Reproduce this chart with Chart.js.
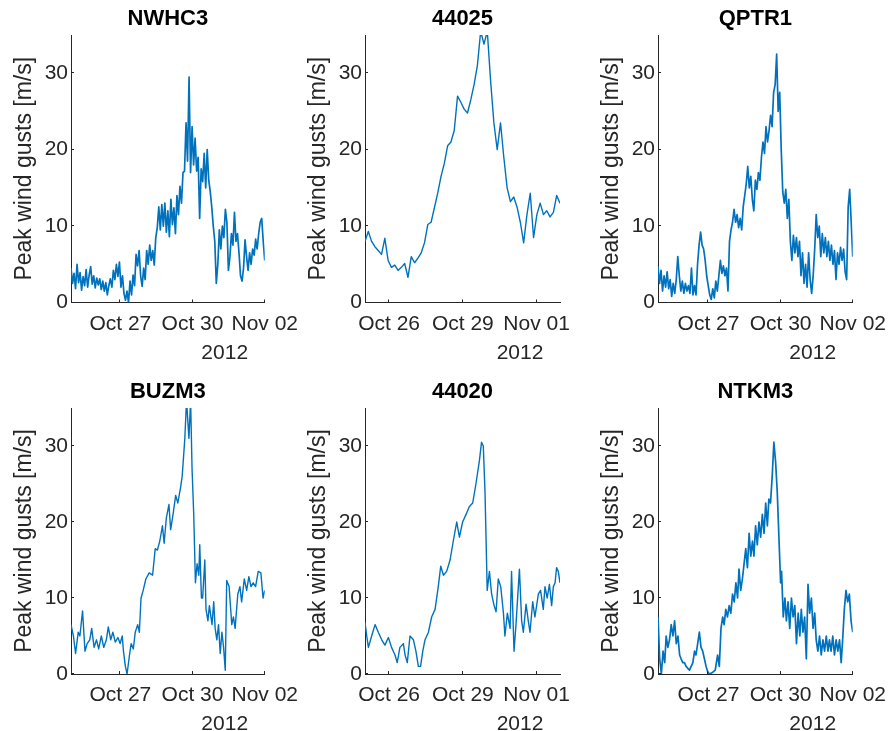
<!DOCTYPE html>
<html>
<head>
<meta charset="utf-8">
<title>Peak wind gusts - Sandy 2012</title>
<script src="https://cdn.jsdelivr.net/npm/chart.js@4.4.1/dist/chart.umd.min.js"></script>
<style>
    html, body { margin: 0; padding: 0; background: #fff; overflow: hidden; }
    #figure { position: relative; width: 889px; height: 731px; }
    #figure canvas { position: absolute; }
</style>
</head>
<body>
<div id="figure">
    <canvas id="c1" width="307" height="365" style="left:0px;top:0px"></canvas>
    <canvas id="c2" width="306" height="365" style="left:294px;top:0px"></canvas>
    <canvas id="c3" width="308" height="365" style="left:587px;top:0px"></canvas>
    <canvas id="c4" width="307" height="358" style="left:0px;top:373px"></canvas>
    <canvas id="c5" width="306" height="358" style="left:294px;top:373px"></canvas>
    <canvas id="c6" width="308" height="358" style="left:587px;top:373px"></canvas>
</div>
<script>
// --- DATA (time = days since 25 Oct 2012 00:00, gusts in m/s) ---
const yTitle = 'Peak wind gusts [m/s]';
const yearText = '2012';
const gustTicks = [0, 10, 20, 30];
const tickDaysA = [2, 5, 8];
const tickTextA = ['Oct 27', 'Oct 30', 'Nov 02'];
const tickDaysB = [1, 4, 7];
const tickTextB = ['Oct 26', 'Oct 29', 'Nov 01'];

// NWHC3: regular samples from -0.05 to 8.0
const nwhc3Gust = [
    4.5, 2.5, 3.8, 1.8, 5.0, 2.6, 3.9, 1.6, 3.4, 2.2, 4.3,
    2.0, 3.6, 4.7, 2.4, 3.5, 1.9, 3.2, 2.3, 3.1,
    1.7, 2.8, 1.5, 2.6, 1.0, 2.2,
    3.1, 2.0, 4.2, 3.0, 5.0, 3.4,
    5.3, 2.0, 3.5, 1.2,
    0.3, 1.5, 0.0,
    2.8, 1.0, 3.6, 2.2, 6.3,
    4.8, 6.8,
    3.5, 2.1, 4.5, 3.0,
    6.8, 5.0, 7.5, 5.5, 6.8, 4.9,
    8.5, 9.8, 12.5,
    9.5, 12.8, 10.0, 13.0, 9.2, 12.0, 8.6, 13.5, 10.2, 12.4, 9.0, 14.0, 11.5,
    15.2, 13.0, 17.0,
    17.2, 23.5, 18.5, 29.5,
    17.0, 23.0, 18.0, 21.5, 17.2, 19.0,
    11.0, 17.5, 15.8,
    19.5, 15.0, 20.0, 16.0, 14.5,
    12.5, 10.0, 8.0,
    2.5, 5.0,
    9.5, 7.0, 10.0, 8.5,
    12.2, 10.5,
    4.2, 6.0,
    9.0, 7.5,
    11.8,
    8.0, 9.0, 6.5,
    3.5, 2.8, 4.5,
    8.2, 6.0,
    4.2, 6.5, 5.0,
    7.0, 6.2, 8.3, 7.0, 9.0,
    10.5, 11.0,
    8.0, 5.5
];

// 44025: regular samples from 0.02 to 7.95
const b44025Gust = [
    8.0, 9.3, 8.0, 7.3, 6.8, 6.3, 8.4, 5.5, 4.6, 4.9,
    4.2, 4.6, 5.1, 3.3, 6.0, 5.2, 5.8, 6.5, 7.8, 10.2,
    10.5, 12.4, 14.3, 16.5, 18.2, 20.5, 21.0, 22.5, 27.0, 26.2,
    25.3, 24.8, 26.5, 28.5, 31.0, 35.5, 33.8, 35.5, 29.0, 23.5,
    20.0, 23.5, 19.0, 15.0, 13.2, 13.8, 12.5, 10.5, 7.8, 11.5,
    14.3, 8.5, 11.5, 13.0, 11.5, 12.0, 11.2, 11.8, 14.0, 13.0
];

// QPTR1: regular samples from -0.1 to 8.0
const qptr1Gust = [
    4.7, 2.5, 4.2, 1.5, 3.5, 2.0, 4.0, 1.8, 3.0, 0.8,
    2.5, 1.2, 3.0, 6.0, 3.5, 1.5, 2.8, 1.2, 2.5, 1.5,
    2.2, 1.2, 4.5, 1.0, 2.2, 1.0, 5.0, 7.5, 9.2, 7.5,
    7.0, 5.5, 3.5, 2.2, 1.0, 0.4, 1.8, 0.6, 2.8, 1.5,
    3.5, 5.5, 3.8, 4.8, 3.5, 4.5, 1.5, 8.0, 9.5, 10.5,
    12.2, 10.5, 11.5, 9.8, 11.0, 9.5, 12.5, 14.0, 15.5, 17.8,
    15.0, 16.5, 13.5, 12.0, 16.0, 14.8, 17.0, 16.0, 19.0, 21.0,
    19.5, 23.0, 21.0, 22.5, 24.5, 23.0, 27.5, 28.5, 32.5, 25.0,
    27.5, 20.0, 14.5, 13.0, 14.8, 11.0, 13.5, 8.0, 5.5, 8.8,
    6.5, 8.5, 6.0, 8.0, 3.5, 6.5, 2.5, 5.0, 2.0, 6.5,
    3.0, 1.2, 3.5, 7.0, 11.5, 8.5, 10.0, 6.0, 9.0, 6.5,
    8.5, 6.0, 8.0, 5.5, 7.5, 5.0, 6.8, 3.0, 6.5, 5.0,
    7.2, 5.5, 7.0, 4.0, 3.0, 12.5, 14.8, 10.5, 6.0
];

const buzm3Time = [
    -0.05, 0.05, 0.14, 0.25, 0.32, 0.43, 0.53, 0.62, 0.73, 0.81,
    0.91, 1.01, 1.10, 1.21, 1.31, 1.42, 1.50, 1.60, 1.69, 1.79,
    1.90, 1.99, 2.08, 2.13, 2.21, 2.28, 2.38, 2.45, 2.54, 2.62,
    2.72, 2.79, 2.86, 2.95, 3.06, 3.20, 3.34, 3.45, 3.54, 3.64,
    3.75, 3.82, 3.91, 4.02, 4.09, 4.19, 4.30, 4.39, 4.50, 4.57,
    4.68, 4.75, 4.85, 4.92, 4.98, 5.05, 5.12, 5.19, 5.26, 5.30,
    5.37, 5.42, 5.51, 5.56, 5.64, 5.70, 5.81, 5.88, 5.94, 6.01,
    6.08, 6.15, 6.22, 6.29, 6.36, 6.42, 6.52, 6.63, 6.70, 6.77,
    6.88, 6.97, 7.04, 7.15, 7.25, 7.34, 7.43, 7.52, 7.62, 7.73,
    7.84, 7.93, 8.00
];
const buzm3Gust = [
    6.5, 5.0, 2.7, 5.5, 5.0, 8.3, 3.0, 4.0, 4.5, 6.0,
    3.5, 4.5, 3.3, 5.0, 3.5, 4.5, 6.2, 4.5, 5.5, 4.2,
    4.8, 4.0, 5.0, 3.0, 1.0, 0.0, 2.5, 4.0, 3.3, 5.5,
    6.5, 5.5, 10.0, 11.0, 12.5, 13.3, 13.0, 16.5, 16.3, 17.5,
    19.5, 17.2, 20.5, 22.3, 19.0, 21.0, 23.5, 22.5, 24.5, 26.0,
    31.0, 36.0, 31.0, 36.0, 27.0, 21.0, 12.0, 14.5, 13.0, 17.0,
    10.0, 10.0, 15.0, 8.5, 7.0, 9.0, 6.5, 9.5, 6.0, 4.5,
    6.5, 2.7, 5.5, 3.5, 0.5, 12.3, 11.5, 6.5, 7.5, 6.0,
    10.5, 11.5, 9.5, 12.5, 11.0, 12.8, 11.5, 12.0, 11.5, 13.5,
    13.3, 10.0, 11.0
];

const b44020Time = [
    0.02, 0.09, 0.16, 0.29, 0.43, 0.56, 0.70, 0.83, 0.97, 1.10,
    1.24, 1.33, 1.44, 1.58, 1.65, 1.74, 1.85, 1.99, 2.09, 2.19,
    2.28, 2.37, 2.46, 2.60, 2.73, 2.87, 3.00, 3.10, 3.21, 3.34,
    3.48, 3.61, 3.75, 3.86, 3.99, 4.13, 4.26, 4.40, 4.53, 4.67,
    4.76, 4.83, 4.90, 4.99, 5.08, 5.17, 5.27, 5.35, 5.44, 5.54,
    5.65, 5.71, 5.81, 5.92, 5.98, 6.08, 6.16, 6.30, 6.39, 6.46,
    6.57, 6.66, 6.73, 6.84, 6.93, 7.07, 7.16, 7.27, 7.34, 7.43,
    7.52, 7.61, 7.68, 7.75, 7.81, 7.88, 7.95
];
const b44020Gust = [
    6.8, 5.0, 3.5, 5.0, 6.5, 5.5, 4.5, 3.8, 4.8, 3.5,
    2.5, 1.5, 3.5, 4.0, 2.5, 1.5, 5.0, 4.5, 3.0, 1.0,
    1.0, 3.0, 4.5, 5.5, 7.5, 8.5, 11.5, 14.2, 13.0, 13.5,
    15.0, 17.5, 20.0, 18.0, 20.0, 21.0, 22.0, 22.5, 25.0, 28.0,
    30.5, 30.0, 24.0, 11.0, 13.5, 10.5, 9.0, 8.2, 12.5, 11.5,
    8.0, 5.0, 8.0, 6.0, 13.5, 3.0, 6.5, 13.8, 7.0, 5.5,
    9.2, 7.0, 5.5, 9.5, 7.5, 10.5, 11.0, 8.5, 11.5, 10.0,
    11.8, 9.0, 11.5, 12.0, 14.0, 13.5, 12.0
];

const ntkm3Time = [
    -0.10, -0.03, 0.04, 0.11, 0.18, 0.24, 0.31, 0.38, 0.45, 0.52,
    0.59, 0.66, 0.73, 0.80, 0.86, 0.93, 1.00, 1.07, 1.21, 1.35,
    1.42, 1.48, 1.55, 1.62, 1.69, 1.76, 1.83, 1.90, 1.97, 2.03,
    2.17, 2.28, 2.38, 2.45, 2.52, 2.59, 2.65, 2.72, 2.79, 2.86,
    2.93, 3.00, 3.07, 3.14, 3.21, 3.27, 3.34, 3.41, 3.48, 3.55,
    3.62, 3.69, 3.76, 3.83, 3.89, 3.96, 4.03, 4.10, 4.17, 4.24,
    4.31, 4.38, 4.45, 4.51, 4.58, 4.65, 4.72, 4.79, 4.86, 4.93,
    5.00, 5.04, 5.11, 5.18, 5.24, 5.31, 5.38, 5.45, 5.52, 5.59,
    5.66, 5.73, 5.80, 5.86, 5.93, 6.00, 6.07, 6.14, 6.21, 6.28,
    6.35, 6.42, 6.48, 6.55, 6.62, 6.69, 6.76, 6.83, 6.90, 6.97,
    7.03, 7.10, 7.17, 7.24, 7.31, 7.38, 7.45, 7.52, 7.59, 7.65,
    7.72, 7.79, 7.86, 7.93, 8.00
];
const ntkm3Gust = [
    7.5, 2.0, 0.0, 3.0, 1.5, 5.0, 3.5, 4.5, 6.5, 5.0,
    7.0, 4.0, 5.0, 2.5, 2.0, 1.5, 1.5, 1.0, 0.5, 1.5,
    3.0, 2.5, 4.0, 5.5, 3.5, 3.0, 2.0, 1.0, 0.3, 0.0,
    0.2, 0.5, 2.5, 1.0, 6.0, 7.5, 6.5, 8.5, 7.5, 9.0,
    8.0, 10.5, 9.5, 12.0, 10.0, 13.8, 11.0, 12.5, 14.5, 16.5,
    14.0, 18.5, 15.5, 17.5, 15.5, 19.5, 17.0, 20.0, 18.0, 21.0,
    18.5, 22.5, 19.5, 23.0, 22.5, 26.0, 30.5, 28.0, 24.0, 18.0,
    12.0, 13.5, 7.5, 10.0, 7.0, 9.5, 6.0, 10.0, 7.5, 9.0,
    4.0, 8.0, 5.0, 8.5, 5.5, 7.5, 2.0, 11.8, 8.0, 10.0,
    6.0, 8.0, 4.5, 3.0, 5.0, 2.5, 4.5, 3.0, 5.0, 3.0,
    4.5, 3.0, 5.0, 2.5, 4.5, 3.0, 4.5, 1.5, 5.0, 8.5,
    11.0, 9.5, 10.5, 7.0, 5.5
];

// --- STYLE ---
const FONT = '"Liberation Sans", Arial, Helvetica, sans-serif';
const AXIS_COLOR = '#262626';
const LINE_COLOR = '#0072BD';

// evenly spaced sample times for the regularly sampled stations
function spanDays(start, end, n) {
    return Array.from({ length: n }, (_, i) => start + i * (end - start) / (n - 1));
}

// MATLAB-style ticks pointing into the axes
const innerTicks = {
    id: 'innerTicks',
    afterDatasetsDraw(chart) {
        const { ctx, chartArea: a, scales: { x, y } } = chart;
        ctx.save();
        ctx.strokeStyle = AXIS_COLOR;
        ctx.lineWidth = 1;
        ctx.beginPath();
        x.ticks.forEach(t => {
            const px = Math.round(x.getPixelForValue(t.value)) - 0.5;
            ctx.moveTo(px, a.bottom);
            ctx.lineTo(px, a.bottom - 3);
        });
        y.ticks.forEach(t => {
            const py = Math.round(y.getPixelForValue(t.value)) - 0.5;
            ctx.moveTo(a.left, py);
            ctx.lineTo(a.left + 3, py);
        });
        ctx.stroke();
        ctx.restore();
    }
};

// secondary date label ("2012") under the x tick labels
const yearLabel = {
    id: 'yearLabel',
    afterDraw(chart, args, opts) {
        const { ctx, chartArea: a } = chart;
        ctx.save();
        ctx.font = `21px ${FONT}`;
        ctx.fillStyle = AXIS_COLOR;
        ctx.textAlign = 'center';
        ctx.textBaseline = 'alphabetic';
        ctx.fillText(opts.text, a.right + opts.dx, a.bottom + opts.dy);
        ctx.restore();
    }
};

function makePanel(p) {
    const points = p.time.map((t, i) => ({ x: t, y: p.gust[i] }));
    return new Chart(document.getElementById(p.id), {
        type: 'line',
        data: {
            datasets: [{
                data: points,
                borderColor: LINE_COLOR,
                borderWidth: p.lineW,
                borderJoinStyle: 'round',
                pointRadius: 0,
                tension: 0,
                clip: 0
            }]
        },
        plugins: [innerTicks, yearLabel],
        options: {
            responsive: false,
            animation: false,
            devicePixelRatio: 1,
            events: [],
            layout: { padding: { left: 0, top: 0, right: 40, bottom: 0 } },
            plugins: {
                legend: { display: false },
                tooltip: { enabled: false },
                title: {
                    display: true,
                    text: p.name,
                    color: '#000',
                    fullSize: false,
                    font: { family: FONT, size: 22, weight: 'bold', lineHeight: 1.2 },
                    padding: { top: 6, bottom: 2.6 }
                },
                yearLabel: { text: yearText, dx: -40, dy: 56 }
            },
            scales: {
                x: {
                    type: 'linear',
                    min: p.range[0],
                    max: p.range[1],
                    grid: { display: false, drawTicks: false },
                    border: { color: AXIS_COLOR, width: 1 },
                    ticks: {
                        autoSkip: false,
                        maxRotation: 0,
                        padding: 9,
                        color: AXIS_COLOR,
                        font: { family: FONT, size: 21 },
                        callback: v => p.tickText[p.tickDays.indexOf(v)]
                    },
                    afterBuildTicks: s => { s.ticks = p.tickDays.map(v => ({ value: v })); },
                    afterFit: s => { s.height = p.xAxisH; }
                },
                y: {
                    type: 'linear',
                    min: 0,
                    max: 35,
                    grid: { display: false, drawTicks: false },
                    border: { color: AXIS_COLOR, width: 1 },
                    ticks: { padding: 3, color: AXIS_COLOR, font: { family: FONT, size: 21 } },
                    afterBuildTicks: s => { s.ticks = gustTicks.map(v => ({ value: v })); },
                    afterFit: s => { s.width = 71; },
                    title: {
                        display: true,
                        text: yTitle,
                        color: AXIS_COLOR,
                        font: { family: FONT, size: 23 },
                        padding: { top: 11, bottom: 0 }
                    }
                }
            }
        }
    });
}

const panels = [
    { id: 'c1', name: 'NWHC3', time: spanDays(-0.05, 8.0, nwhc3Gust.length), gust: nwhc3Gust,
      range: [-0.05, 8.0], tickDays: tickDaysA, tickText: tickTextA, xAxisH: 62.5, lineW: 1.7 },
    { id: 'c2', name: '44025', time: spanDays(0.02, 7.95, b44025Gust.length), gust: b44025Gust,
      range: [0.02, 7.95], tickDays: tickDaysB, tickText: tickTextB, xAxisH: 62.5, lineW: 1.4 },
    { id: 'c3', name: 'QPTR1', time: spanDays(-0.1, 8.0, qptr1Gust.length), gust: qptr1Gust,
      range: [-0.1, 8.0], tickDays: tickDaysA, tickText: tickTextA, xAxisH: 62.5, lineW: 1.7 },
    { id: 'c4', name: 'BUZM3', time: buzm3Time, gust: buzm3Gust,
      range: [-0.05, 8.0], tickDays: tickDaysA, tickText: tickTextA, xAxisH: 57, lineW: 1.4 },
    { id: 'c5', name: '44020', time: b44020Time, gust: b44020Gust,
      range: [0.02, 7.95], tickDays: tickDaysB, tickText: tickTextB, xAxisH: 57, lineW: 1.4 },
    { id: 'c6', name: 'NTKM3', time: ntkm3Time, gust: ntkm3Gust,
      range: [-0.1, 8.0], tickDays: tickDaysA, tickText: tickTextA, xAxisH: 57, lineW: 1.7 }
];

panels.forEach(makePanel);
</script>
</body>
</html>
